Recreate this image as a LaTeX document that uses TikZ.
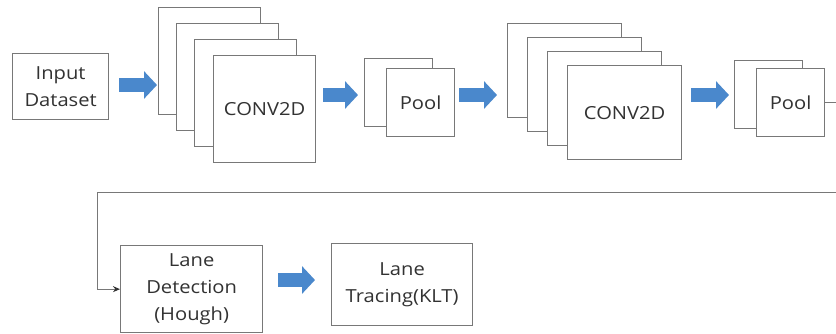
\documentclass[tikz,border=0pt]{standalone}
\usepackage{fontspec}
\setmainfont{Open Sans}[FakeStretch=1.12]
\usetikzlibrary{arrows.meta,calc}
\definecolor{fatblue}{RGB}{74,136,204}
\definecolor{boxgray}{RGB}{120,120,120}
\definecolor{inkgray}{RGB}{50,50,50}
\begin{document}
\begin{tikzpicture}[x=1pt,y=-1pt,
  sq/.style={draw=boxgray, line width=1.3pt, fill=white, inner sep=0pt, anchor=north west,
             text=inkgray, font=\fontsize{18}{27}\selectfont, align=center},
  convsq/.style={sq, minimum width=102pt, minimum height=107pt},
  convsqb/.style={sq, minimum width=114pt, minimum height=94pt},
  poolsq/.style={sq, minimum width=68pt, minimum height=68pt},
  fat/.style={draw=fatblue, line width=14pt, -{Triangle[width=27pt,length=13pt]}},
  link/.style={draw=boxgray, line width=1pt}
]
\useasboundingbox (0,0) rectangle (836,333);
\clip (0,0) rectangle (836,333);
\fill[white] (0,0) rectangle (836,333);

% first row
\node[sq, minimum width=96pt, minimum height=66pt] (in) at (12,53) {Input\\Dataset};

\node[convsq] (c1a) at (158,7) {};
\node[convsq] (c1b) at (176,23) {};
\node[convsq] (c1c) at (194,39) {};
\node[convsq] (c1d) at (213,55) {CONV2D};

\node[poolsq] (p1a) at (364,58) {};
\node[poolsq] (p1b) at (386,68) {Pool};

\node[convsqb] (c2a) at (507,23) {};
\node[convsqb] (c2b) at (527,37) {};
\node[convsqb] (c2c) at (547,51) {};
\node[convsqb] (c2d) at (567,65) {CONV2D};

\node[poolsq] (p2a) at (734,60) {};
\node[poolsq] (p2b) at (756,68) {Pool};

% second row
\node[sq, minimum width=142pt, minimum height=87pt] (ld) at (120,245) {Lane\\Detection\\(Hough)};
\node[sq, minimum width=141pt, minimum height=82pt] (lt) at (331,243) {Lane\\Tracing(KLT)};

% levels for the block arrows
\coordinate (r1) at (0,85);
\coordinate (r2) at (0,95);
\coordinate (r5) at (0,280);

\draw[fat, shorten <=10pt, shorten >=1pt] (in.east |- r1) -- (c1a.west |- r1);
\draw[fat, shorten <=7pt, shorten >=6pt] (c1d.east |- r2) -- (p1a.west |- r2);
\draw[fat, shorten <=4pt, shorten >=10pt] (p1b.east |- r2) -- (c2a.west |- r2);
\draw[fat, shorten <=9pt, shorten >=5pt] (c2d.east |- r2) -- (p2a.west |- r2);
\draw[fat, shorten <=15pt, shorten >=16pt] (ld.east |- r5) -- (lt.west |- r5);

% return connector
\coordinate (far) at (850,0);
\coordinate (back) at (97,192);
\draw[link, -{Stealth[length=7pt,width=6pt,color=inkgray]}] (p2b.east) -- (p2b.east -| far) |- (back) |- (ld.west);
\end{tikzpicture}
\end{document}
